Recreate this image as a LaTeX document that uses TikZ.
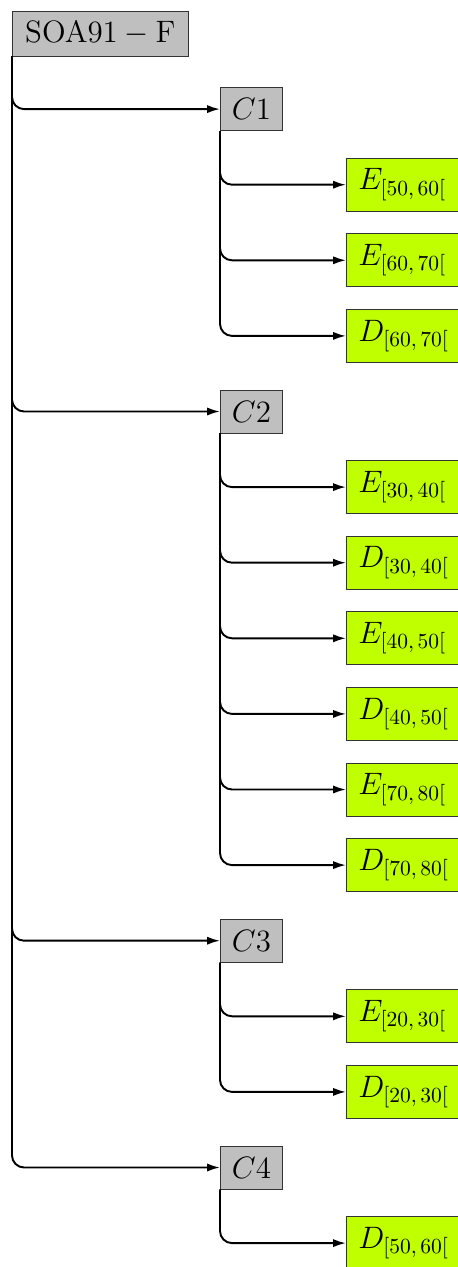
\documentclass[tikz,border=0pt]{standalone}
\usetikzlibrary{positioning,arrows.meta}

\begin{document}
\begin{tikzpicture}[x=0.465pt, y=-0.465pt, font=\Large,
  root box/.style = {
    draw=black!80, fill=black!25, anchor=west,
    minimum width=81.8pt, minimum height=20.9pt,
  },
  group box/.style = {
    draw=black!80, fill=black!25, anchor=west,
    minimum width=28.8pt, minimum height=20pt,
  },
  leaf box/.style = {
    draw=black!80, fill=lime, anchor=west,
    inner xsep=5.5pt, minimum height=24.6pt,
  },
  branch/.style = {
    line width=0.9pt, rounded corners=5.6pt,
    -{Latex[length=6pt,width=3.8pt]},
}]
  \useasboundingbox (0,0) rectangle (457,1267);
  \node[name=root,root box] at (12,33.5) {$\mathrm{SOA91-F}$};
  \foreach \grp/\row in {1/1, 2/5, 3/12, 4/15}
    {
      \node[name=c\grp,group box] at (220,{33.5+75.6*\row}) {$C\grp$};
      \draw[branch] (root.south west) |- (c\grp.west);
    }
  \foreach \grp/\row/\lbl in
    {1/2/{E_{[50,\,60[}}, 1/3/{E_{[60,\,70[}}, 1/4/{D_{[60,\,70[}},
     2/6/{E_{[30,\,40[}}, 2/7/{D_{[30,\,40[}}, 2/8/{E_{[40,\,50[}},
     2/9/{D_{[40,\,50[}}, 2/10/{E_{[70,\,80[}}, 2/11/{D_{[70,\,80[}},
     3/13/{E_{[20,\,30[}}, 3/14/{D_{[20,\,30[}},
     4/16/{D_{[50,\,60[}}}
    {
      \node[name=l\row,leaf box] at (346,{33.5+75.6*\row}) {$\lbl$};
      \draw[branch] (c\grp.south west) |- (l\row.west);
    }
\end{tikzpicture}
\end{document}
